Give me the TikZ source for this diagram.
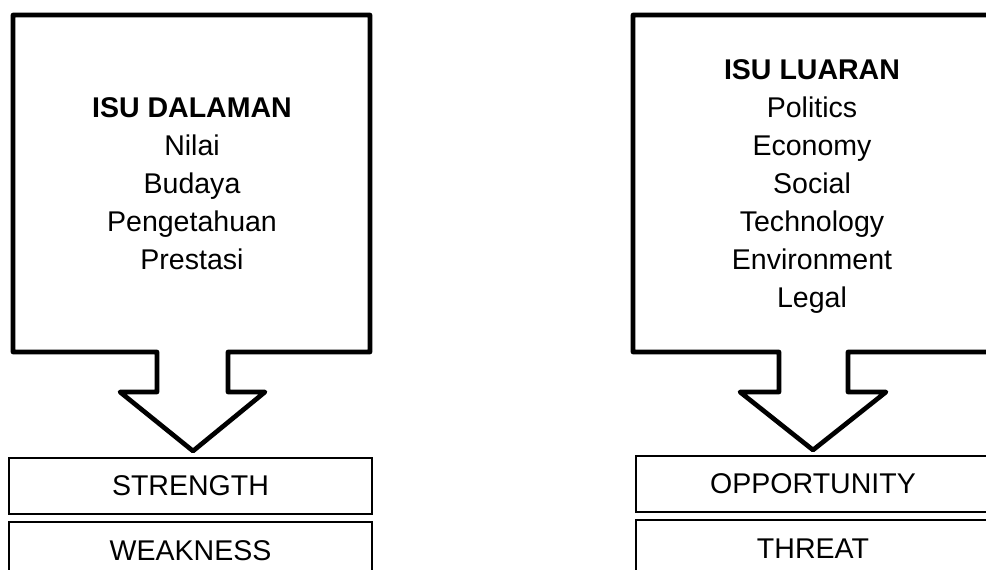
\documentclass[tikz,border=0pt]{standalone}
\usepackage{fontspec}
\setmainfont{Liberation Sans}
\usetikzlibrary{positioning}

\tikzset{
  issue/.style={
    draw,
    line width=3.5pt,
    line join=round,
  },
  item/.style={
    anchor=base,
    inner sep=0pt,
    font=\fontsize{21.4}{25}\selectfont,
  },
  swot/.style={
    draw,
    line width=1.2pt,
    minimum height=42pt,
    inner sep=0pt,
    font=\fontsize{21.4}{25}\selectfont,
  },
}

\begin{document}
\begin{tikzpicture}[x=0.75pt, y=-0.75pt]
  \useasboundingbox (0,0) rectangle (986,570);
  \clip (0,0) rectangle (986,570);

  % isu dalaman
  \draw[issue] (13,15) -- (370,15) -- (370,352) -- (228,352) -- (228,392)
    -- (265,392) -- (193,451) -- (120,392) -- (157,392) -- (157,352)
    -- (13,352) -- cycle;
  \node[item] (dalam-0) at (192,118) {\textbf{ISU DALAMAN}};
  \foreach \t [count=\i] in {Nilai,Budaya,Pengetahuan,Prestasi}
    \node[item] (dalam-\i) at (192,118+38*\i) {\t};

  % isu luaran
  \draw[issue] (633,15) -- (993,15) -- (993,352) -- (848,352) -- (848,392)
    -- (886,392) -- (813,450) -- (740,392) -- (779,392) -- (779,352)
    -- (633,352) -- cycle;
  \node[item] (luar-0) at (812,80) {\textbf{ISU LUARAN}};
  \foreach \t [count=\i] in {Politics,Economy,Social,Technology,Environment,Legal}
    \node[item] (luar-\i) at (812,80+38*\i) {\t};

  % swot
  \node[swot, minimum width=272.25pt] (strength) at (190.5,486) {STRENGTH};
  \node[swot, minimum width=272.25pt, below=5pt of strength] (weakness) {WEAKNESS};
  \node[swot, minimum width=265.5pt] (opportunity) at (813,484) {OPPORTUNITY};
  \node[swot, minimum width=265.5pt, below=5pt of opportunity] (threat) {THREAT};
\end{tikzpicture}
\end{document}
